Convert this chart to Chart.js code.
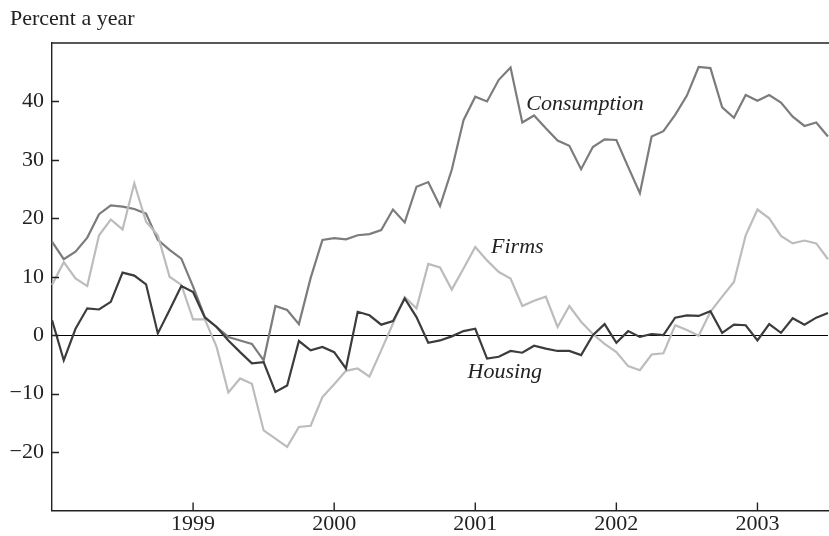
<!DOCTYPE html>
<html>
<head>
<meta charset="utf-8">
<script src="https://cdn.jsdelivr.net/npm/chart.js@4"></script>
<style>
  body { margin: 0; background: #fff; }
  canvas { display: block; }
</style>
</head>
<body>
<canvas id="grafico" width="829" height="536"></canvas>
<script>
// Meses de jan/1998 a jul/2003
const meses = [];
for (let ano = 1998; ano <= 2003; ano++) {
    for (let m = 1; m <= 12; m++) {
        if (ano === 2003 && m > 7) break;
        meses.push(ano + '-' + String(m).padStart(2, '0'));
    }
}

const anosMarcados = ['1999', '2000', '2001', '2002', '2003'];
const ticksY = [-20, -10, 0, 10, 20, 30, 40];

const consumo = [16.0, 13.0, 14.3, 16.7, 20.7, 22.2, 22.0, 21.6, 20.8, 16.3,
    14.6, 13.1, 8.3, 3.1, 1.4, -0.3, -0.9, -1.5, -4.3, 5.0,
    4.3, 1.9, 9.8, 16.3, 16.6, 16.4, 17.1, 17.3, 18.0, 21.5,
    19.3, 25.4, 26.2, 22.1, 28.3, 36.8, 40.8, 40.0, 43.7, 45.8,
    36.4, 37.6, 35.4, 33.3, 32.4, 28.4, 32.2, 33.5, 33.4, 28.8,
    24.3, 34.0, 34.9, 37.7, 41.0, 45.9, 45.7, 39.0, 37.2, 41.1,
    40.1, 41.1, 39.8, 37.4, 35.8, 36.4, 34.0];

const empresas = [8.6, 12.5, 9.7, 8.4, 17.1, 19.8, 18.1, 26.0, 19.4, 17.1,
    10.0, 8.6, 2.7, 2.7, -2.0, -9.8, -7.4, -8.3, -16.3, -17.7,
    -19.1, -15.7, -15.5, -10.6, -8.4, -6.1, -5.7, -7.1, -2.6, 2.0,
    6.5, 4.6, 12.2, 11.6, 7.8, 11.4, 15.1, 12.8, 10.8, 9.7,
    5.0, 5.9, 6.6, 1.4, 5.0, 2.3, 0.2, -1.5, -2.9, -5.3,
    -6.0, -3.3, -3.1, 1.7, 0.9, -0.1, 4.0, 6.6, 9.1, 17.1,
    21.5, 20.0, 17.0, 15.7, 16.2, 15.7, 13.0];

const habitacao = [2.6, -4.3, 1.1, 4.6, 4.4, 5.7, 10.7, 10.2, 8.7, 0.3,
    4.3, 8.4, 7.4, 3.0, 1.4, -0.9, -2.9, -4.8, -4.6, -9.7,
    -8.6, -1.0, -2.6, -2.0, -2.9, -5.7, 4.0, 3.4, 1.8, 2.4,
    6.3, 3.1, -1.3, -0.9, -0.2, 0.7, 1.1, -4.0, -3.7, -2.7,
    -3.0, -1.8, -2.3, -2.7, -2.7, -3.4, 0.0, 1.9, -1.3, 0.7,
    -0.3, 0.2, 0.0, 3.0, 3.4, 3.3, 4.1, 0.4, 1.8, 1.7,
    -0.9, 1.9, 0.4, 2.9, 1.8, 3.0, 3.8];

// Rótulos das séries escritos dentro do gráfico: [texto, mês, valor]
const rotulos = [
    ['Consumption', '2001-05', 38.5],
    ['Firms', '2001-02', 14.0],
    ['Housing', '2000-12', -7.4]
];

const fonte = 'Liberation Serif';
const tamFonte = 22;

// Moldura de cima, marcas para dentro e rótulos das séries
const plugMoldura = {
    id: 'moldura',
    beforeDraw(chart) {
        const ctx = chart.ctx;
        ctx.save();
        ctx.fillStyle = '#fff';
        ctx.fillRect(0, 0, chart.width, chart.height);
        ctx.restore();
    },
    afterDraw(chart) {
        const ctx = chart.ctx;
        const area = chart.chartArea;
        const x = chart.scales.x;
        const y = chart.scales.y;
        ctx.save();
        ctx.strokeStyle = '#222';
        ctx.lineWidth = 1.4;
        ctx.beginPath();
        ctx.moveTo(area.left, area.top);
        ctx.lineTo(chart.width, area.top);
        ticksY.forEach(v => {
            const py = Math.round(y.getPixelForValue(v)) + 0.5;
            ctx.moveTo(area.left, py);
            ctx.lineTo(area.left + 7, py);
        });
        anosMarcados.forEach(a => {
            const px = x.getPixelForValue(meses.indexOf(a + '-01'));
            ctx.moveTo(px, area.bottom);
            ctx.lineTo(px, area.bottom - 8);
        });
        ctx.stroke();

        ctx.fillStyle = '#222';
        ctx.font = 'italic ' + tamFonte + 'px "' + fonte + '"';
        ctx.textAlign = 'left';
        ctx.textBaseline = 'alphabetic';
        rotulos.forEach(([texto, mes, valor]) => {
            ctx.fillText(texto, x.getPixelForValue(meses.indexOf(mes)) + 4, y.getPixelForValue(valor));
        });
        ctx.restore();
    }
};

const ctx = document.getElementById('grafico').getContext('2d');
new Chart(ctx, {
    type: 'line',
    data: {
        labels: meses,
        datasets: [
            { label: 'Housing', data: habitacao, borderColor: '#3c3c3c' },
            { label: 'Firms', data: empresas, borderColor: '#bcbcbc' },
            { label: 'Consumption', data: consumo, borderColor: '#7c7c7c' }
        ]
    },
    options: {
        responsive: false,
        animation: false,
        layout: { padding: { left: 10, right: -2, top: 0, bottom: 0 } },
        elements: {
            line: { borderWidth: 2.2, tension: 0, fill: false },
            point: { radius: 0, hoverRadius: 0 }
        },
        plugins: {
            legend: { display: false },
            tooltip: { enabled: false },
            title: {
                display: true,
                text: 'Percent a year',
                align: 'start',
                color: '#222',
                font: { family: fonte, size: tamFonte, weight: 'normal' },
                padding: { top: 6, bottom: 10.6 }
            }
        },
        scales: {
            x: {
                type: 'category',
                offset: false,
                grid: { display: false, drawTicks: false },
                border: { display: true, color: '#222', width: 1.4 },
                ticks: {
                    autoSkip: false,
                    maxRotation: 0,
                    padding: 1,
                    color: '#222',
                    font: { family: fonte, size: tamFonte },
                    callback: function(valor, i) {
                        const rotulo = meses[i];
                        const ano = rotulo.slice(0, 4);
                        return (rotulo.endsWith('-01') && anosMarcados.includes(ano)) ? ano : '';
                    }
                },
                afterFit: function(escala) { escala.height = 25.5; }
            },
            y: {
                min: -30,
                max: 50,
                grid: {
                    drawTicks: false,
                    color: c => (c.tick && c.tick.value === 0) ? '#000' : 'rgba(0,0,0,0)',
                    lineWidth: 1
                },
                border: { display: true, color: '#222', width: 1.4 },
                ticks: {
                    stepSize: 10,
                    padding: 8,
                    color: '#222',
                    font: { family: fonte, size: tamFonte },
                    callback: v => ticksY.includes(v) ? (v < 0 ? '\u2212' + Math.abs(v) : String(v)) : null
                },
                afterFit: function(escala) { escala.width = 42; }
            }
        }
    },
    plugins: [plugMoldura]
});
</script>
</body>
</html>
